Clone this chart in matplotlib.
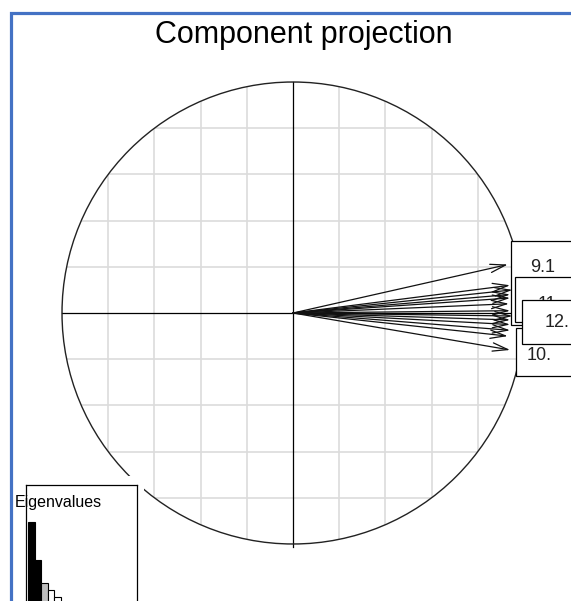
import matplotlib
matplotlib.use("Agg")
import matplotlib.pyplot as plt
import matplotlib.patches as patch
import numpy as np

plt.rcParams['font.family'] = ['Liberation Sans', 'DejaVu Sans']

# variable loadings on dim 1 / dim 2
load_x = [0.93, 0.94, 0.95, 0.94, 0.94, 0.935, 0.94, 0.95, 0.94, 0.94, 0.94, 0.93, 0.94]
load_y = [0.21, 0.12, 0.10, 0.08, 0.065, 0.04, 0.01, -0.013, -0.03, -0.05, -0.075, -0.10, -0.16]

# repelled labels (text, text pos, box left/top/bottom) - drawn in this order
lab_text = ['9.1', '11.', '10.', '12.']
lab_x = [1.026, 1.061, 1.013, 1.091]
lab_y = [0.199, 0.036, -0.182, -0.039]
box_left = [0.944, 0.961, 0.965, 0.991]
box_top = [0.312, 0.156, -0.065, 0.056]
box_bot = [-0.052, -0.039, -0.273, -0.134]

eig = [15.8, 12.0, 9.7, 9.0, 8.3, 7.6, 7.1, 6.6, 6.2, 5.9, 5.5, 5.2, 4.9]
eig_col = ['black', 'black', '#bebebe'] + ['white'] * 10

W, H = 571, 601
cx, cy, R = 293, 313, 231  # circle centre / radius in pixels

fig = plt.figure(figsize=(W / 100, H / 100), dpi=100)
ax = fig.add_axes([0, 0, 1, 1])
ax.set_xlim(-cx / R, (W - cx) / R)
ax.set_ylim(-(H - cy) / R, cy / R)
ax.axis('off')

circ = patch.Circle((0, 0), 1, fill=False, ec='#222222', lw=1.0, zorder=3)
ax.add_patch(circ)
clipc = patch.Circle((0, 0), 1, transform=ax.transData)

# grid only inside the circle
for g in np.arange(-1, 1.01, 0.2):
    if abs(g) < 1e-9:
        continue
    l1, = ax.plot([g, g], [-1, 1], color='#dcdcdc', lw=1.2, zorder=1)
    l2, = ax.plot([-1, 1], [g, g], color='#dcdcdc', lw=1.2, zorder=1)
    l1.set_clip_path(clipc)
    l2.set_clip_path(clipc)

ax.plot([0, 0], [-1.012, 1], color='black', lw=0.9, zorder=2)
ax.plot([-1, 1], [0, 0], color='black', lw=0.9, zorder=2)

for x, y in zip(load_x, load_y):
    a = patch.FancyArrowPatch((0, 0), (x, y), arrowstyle='->,head_length=0.55,head_width=0.15',
                              mutation_scale=20, lw=0.9, color='#111111', shrinkA=0, shrinkB=0, zorder=4)
    ax.add_patch(a)

for i in range(len(lab_text)):
    z = 5 + i
    ax.add_patch(patch.Rectangle((box_left[i], box_bot[i]), 1.0, box_top[i] - box_bot[i],
                                 fc='white', ec='black', lw=0.9, zorder=z, clip_on=False))
    ax.text(lab_x[i], lab_y[i], lab_text[i], fontsize=13, color='#222222',
            ha='left', va='center', zorder=z + 0.5)

fig.text(304 / W, 1 - 35 / H, 'Component projection', fontsize=22, ha='center', va='center')

# white backdrop behind the eigenvalue inset
ax.add_patch(patch.Rectangle((12 / W, -0.2), (144 - 12) / W, 0.2 + (H - 476) / H,
                             transform=fig.transFigure, fc='white', ec='none', zorder=20))

inset = fig.add_axes([26 / W, (H - 680) / H, (137 - 26) / W, (680 - 485) / H])
inset.set_zorder(30)
inset.bar(np.arange(1, len(eig) + 1), eig, width=1.0, color=eig_col, edgecolor='black', lw=0.8)
inset.set_xlim(0.2, 0.2 + 111 / 6.6)
inset.set_ylim(0, 19.5)
inset.set_xticks([])
inset.set_yticks([])
for s in inset.spines.values():
    s.set_linewidth(0.9)
fig.text(15 / W, 1 - 502 / H, 'Eigenvalues', fontsize=11.5, ha='left', va='center', zorder=40)

# blue screenshot frame
fig.add_artist(patch.Rectangle((10.5 / W, -0.1), 1.2, 1.1 - 12.5 / H, transform=fig.transFigure,
                               fill=False, ec='#4472c4', lw=2.3, zorder=50))

fig.savefig('out.png', dpi=100)
